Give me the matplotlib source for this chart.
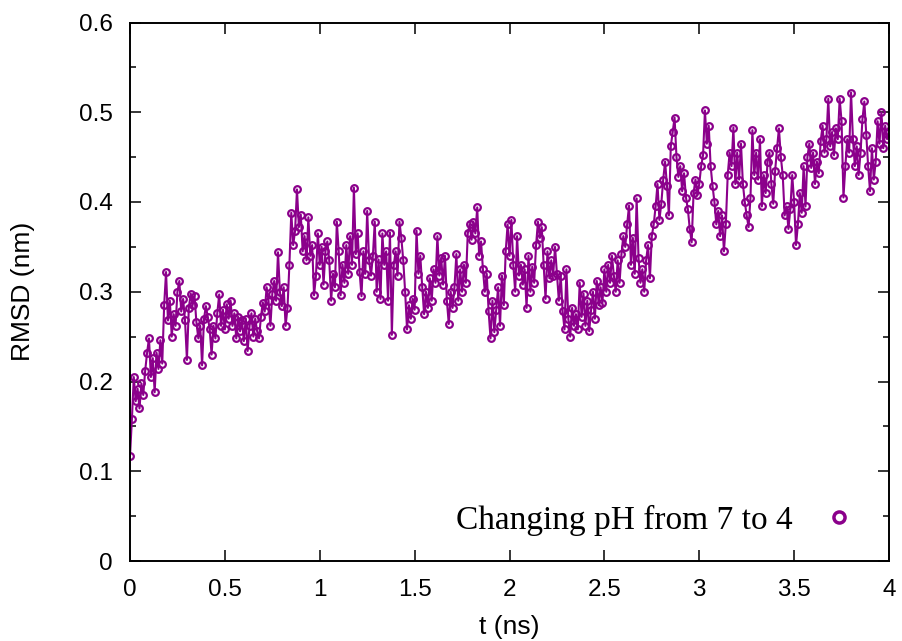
import numpy as np
import matplotlib
matplotlib.use("Agg")
import matplotlib.pyplot as plt
from matplotlib.lines import Line2D

# RMSD trace, one value every 0.01 ns
dt = 0.01
rmsd = [
    0.117, 0.158, 0.205, 0.178, 0.192, 0.170, 0.198, 0.185, 0.212, 0.232,
    0.248, 0.205, 0.226, 0.188, 0.232, 0.214, 0.246, 0.220, 0.285, 0.322,
    0.268, 0.290, 0.250, 0.275, 0.262, 0.300, 0.312, 0.278, 0.292, 0.268,
    0.224, 0.282, 0.298, 0.285, 0.295, 0.266, 0.248, 0.262, 0.218, 0.270,
    0.284, 0.272, 0.258, 0.230, 0.262, 0.248, 0.276, 0.297, 0.262, 0.280,
    0.258, 0.286, 0.270, 0.290, 0.262, 0.276, 0.248, 0.272, 0.256, 0.268,
    0.245, 0.270, 0.234, 0.262, 0.276, 0.250, 0.270, 0.256, 0.248, 0.272,
    0.288, 0.278, 0.305, 0.290, 0.262, 0.298, 0.312, 0.290, 0.344, 0.300,
    0.284, 0.305, 0.262, 0.282, 0.330, 0.388, 0.352, 0.368, 0.414, 0.372,
    0.386, 0.345, 0.362, 0.335, 0.383, 0.340, 0.352, 0.296, 0.318, 0.365,
    0.330, 0.350, 0.308, 0.345, 0.356, 0.335, 0.290, 0.320, 0.305, 0.378,
    0.345, 0.296, 0.330, 0.310, 0.352, 0.320, 0.362, 0.330, 0.416, 0.342,
    0.365, 0.322, 0.295, 0.345, 0.320, 0.390, 0.335, 0.318, 0.340, 0.378,
    0.300, 0.336, 0.292, 0.365, 0.330, 0.345, 0.290, 0.366, 0.252, 0.330,
    0.345, 0.318, 0.378, 0.360, 0.335, 0.300, 0.258, 0.285, 0.270, 0.292,
    0.280, 0.368, 0.320, 0.340, 0.305, 0.275, 0.300, 0.282, 0.315, 0.290,
    0.325, 0.310, 0.362, 0.318, 0.338, 0.308, 0.340, 0.290, 0.264, 0.300,
    0.282, 0.305, 0.342, 0.290, 0.325, 0.300, 0.330, 0.310, 0.365, 0.375,
    0.358, 0.378, 0.365, 0.394, 0.340, 0.356, 0.325, 0.300, 0.320, 0.278,
    0.248, 0.290, 0.255, 0.280, 0.305, 0.262, 0.318, 0.285, 0.345, 0.375,
    0.340, 0.380, 0.330, 0.300, 0.362, 0.318, 0.330, 0.308, 0.325, 0.282,
    0.340, 0.300, 0.328, 0.310, 0.352, 0.378, 0.360, 0.372, 0.330, 0.292,
    0.345, 0.315, 0.335, 0.318, 0.350, 0.320, 0.290, 0.318, 0.278, 0.258,
    0.325, 0.270, 0.250, 0.282, 0.262, 0.275, 0.258, 0.310, 0.272, 0.298,
    0.262, 0.290, 0.256, 0.280, 0.300, 0.270, 0.312, 0.285, 0.305, 0.288,
    0.325, 0.300, 0.330, 0.310, 0.340, 0.318, 0.300, 0.335, 0.310, 0.342,
    0.362, 0.350, 0.375, 0.396, 0.330, 0.360, 0.320, 0.404, 0.338, 0.310,
    0.325, 0.300, 0.335, 0.352, 0.315, 0.362, 0.375, 0.395, 0.420, 0.380,
    0.398, 0.425, 0.445, 0.418, 0.385, 0.462, 0.478, 0.494, 0.450, 0.428,
    0.440, 0.412, 0.432, 0.405, 0.392, 0.370, 0.355, 0.410, 0.425, 0.408,
    0.420, 0.440, 0.452, 0.502, 0.465, 0.485, 0.440, 0.418, 0.400, 0.375,
    0.390, 0.362, 0.385, 0.345, 0.375, 0.430, 0.455, 0.440, 0.483, 0.420,
    0.455, 0.425, 0.465, 0.420, 0.400, 0.385, 0.372, 0.405, 0.480, 0.430,
    0.455, 0.425, 0.470, 0.395, 0.430, 0.410, 0.445, 0.455, 0.420, 0.398,
    0.435, 0.460, 0.482, 0.450, 0.430, 0.385, 0.395, 0.370, 0.392, 0.430,
    0.400, 0.352, 0.375, 0.410, 0.388, 0.440, 0.395, 0.450, 0.465, 0.438,
    0.455, 0.420, 0.445, 0.432, 0.468, 0.485, 0.455, 0.470, 0.515, 0.462,
    0.478, 0.452, 0.482, 0.470, 0.515, 0.490, 0.405, 0.440, 0.470, 0.455,
    0.522, 0.470, 0.440, 0.462, 0.430, 0.455, 0.492, 0.512, 0.475, 0.440,
    0.412, 0.460, 0.425, 0.445, 0.490, 0.465, 0.500, 0.460, 0.485, 0.470,
    0.478,
]
t = np.arange(len(rmsd)) * dt

label = "Changing pH from 7 to 4"
color = "#8b008b"

plt.rcParams['font.family'] = ['Liberation Sans', 'DejaVu Sans']

fig = plt.figure(figsize=(9.02, 6.41), dpi=100)
ax = fig.add_axes([130 / 902, 1 - 561 / 641, 759 / 902, 538.5 / 641])

ax.plot(t, rmsd, color=color, lw=1.5, marker='o', markersize=4.8,
        markerfacecolor='none', markeredgecolor=color, markeredgewidth=1.6)

ax.set_xlim(0, 4)
ax.set_ylim(0, 0.6)
ax.set_xticks(np.arange(0, 4.01, 0.5))
ax.set_xticklabels(['0', '0.5', '1', '1.5', '2', '2.5', '3', '3.5', '4'])
ax.set_yticks(np.arange(0, 0.61, 0.1))
ax.set_yticklabels(['0', '0.1', '0.2', '0.3', '0.4', '0.5', '0.6'])
ax.set_yticks(np.arange(0.05, 0.6, 0.1), minor=True)

ax.tick_params(which='both', direction='in', top=True, right=True,
               labelsize=17.5, width=1.1)
ax.tick_params(which='major', length=8)
ax.tick_params(which='minor', length=4.5)
ax.tick_params(axis='y', pad=12.5)
ax.tick_params(axis='x', pad=13)
for s in ax.spines.values():
    s.set_linewidth(1.4)

ax.set_xlabel("t (ns)", fontsize=19)
ax.set_ylabel("RMSD (nm)", fontsize=19)
ax.xaxis.set_label_coords(0.5, -0.101)
ax.yaxis.set_label_coords(-0.125, 0.5)

handle = Line2D([], [], color=color, lw=0, marker='o', markersize=8,
                markerfacecolor='none', markeredgewidth=2.5)
ax.legend([handle], [label], loc='center right',
          bbox_to_anchor=(1.0, 0.075), frameon=False, markerfirst=False,
          handlelength=1.2, handletextpad=0.8,
          prop={'family': 'Liberation Serif', 'size': 24})

fig.savefig("out.png", dpi=100)
